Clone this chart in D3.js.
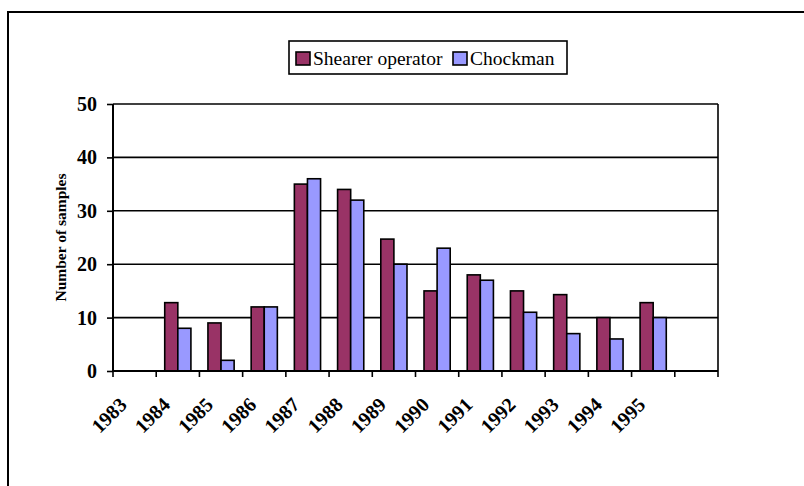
<!DOCTYPE html>
<html>
<head>
<meta charset="utf-8">
<script src="https://cdn.jsdelivr.net/npm/d3@7"></script>
<style>
  body { margin: 0; background: #fff; }
  svg { display: block; }
  svg text { font-family: "Liberation Serif", "Times New Roman", Times, serif; }
</style>
</head>
<body>
<script>
// Samples per year, by job
var years = [1983, 1984, 1985, 1986, 1987, 1988, 1989, 1990, 1991, 1992, 1993, 1994, 1995];
var shearer = [null, 12.8, 9, 12, 35, 34, 24.7, 15, 18, 15, 14.3, 10, 12.8];
var chockman = [null, 8, 2, 12, 36, 32, 20, 23, 17, 11, 7, 6, 10];
var seriesNames = ['Shearer operator', 'Chockman'];
var seriesColors = ['#993366', '#9999ff'];
var yTicks = [0, 10, 20, 30, 40, 50];

var width = 804, height = 486;
var margin = {left: 113, right: 86, top: 104, bottom: 115};
var serif = 'Liberation Serif, Times New Roman, serif';

var svg = d3.select('body').append('svg')
  .attr('width', width)
  .attr('height', height)
  .attr('font-family', serif);

// outer chart border (runs off the right and bottom edge)
svg.append('rect')
  .attr('x', 8).attr('y', 12)
  .attr('width', 900).attr('height', 600)
  .attr('fill', 'none')
  .attr('stroke', '#000')
  .attr('stroke-width', 2);

// one extra empty slot at the end, like the original
var slots = d3.range(years.length + 1);
var x = d3.scaleBand()
  .domain(slots)
  .range([margin.left, width - margin.right]);

var y = d3.scaleLinear()
  .domain([0, 50])
  .range([height - margin.bottom, margin.top]);

// gridlines
svg.append('g')
  .selectAll('line')
  .data(yTicks.slice(1))
  .enter().append('line')
  .attr('x1', x.range()[0]).attr('x2', x.range()[1])
  .attr('y1', function(d) { return y(d); })
  .attr('y2', function(d) { return y(d); })
  .attr('stroke', '#000')
  .attr('stroke-width', 1.6);

// right border of plot
svg.append('line')
  .attr('x1', x.range()[1]).attr('x2', x.range()[1])
  .attr('y1', y(50)).attr('y2', y(0))
  .attr('stroke', '#000')
  .attr('stroke-width', 1.6);

// bars
var inner = d3.scaleBand()
  .domain([0, 1])
  .range([0, x.bandwidth()])
  .paddingOuter(0.65)
  .paddingInner(0);

var data = [];
years.forEach(function(yr, i) {
  [shearer[i], chockman[i]].forEach(function(v, s) {
    if (v != null) data.push({slot: i, s: s, v: v});
  });
});

svg.append('g')
  .selectAll('rect')
  .data(data)
  .enter().append('rect')
  .attr('x', function(d) { return x(d.slot) + inner(d.s); })
  .attr('y', function(d) { return y(d.v); })
  .attr('width', inner.bandwidth())
  .attr('height', function(d) { return y(0) - y(d.v); })
  .attr('fill', function(d) { return seriesColors[d.s]; })
  .attr('stroke', '#000')
  .attr('stroke-width', 1.6);

// y axis
var yAxis = svg.append('g')
  .attr('transform', 'translate(' + margin.left + ',0)')
  .call(d3.axisLeft(y).tickValues(yTicks).tickSize(6).tickPadding(10));
yAxis.attr('font-family', serif);
yAxis.select('.domain').attr('stroke-width', 2).attr('d', 'M0,' + y(50) + 'V' + y(0));
yAxis.selectAll('.tick line').attr('stroke-width', 1.6);
yAxis.selectAll('text')
  .attr('font-family', serif)
  .attr('font-size', 20)
  .attr('font-weight', 'bold')
  .attr('fill', '#000');

// x axis: ticks on slot boundaries, year labels at the left edge of each slot
var xAxis = svg.append('g')
  .attr('transform', 'translate(0,' + y(0) + ')');
xAxis.append('line')
  .attr('x1', x.range()[0]).attr('x2', x.range()[1])
  .attr('stroke', '#000')
  .attr('stroke-width', 2);
xAxis.selectAll('.tk')
  .data(slots.concat([slots.length]))
  .enter().append('line')
  .attr('class', 'tk')
  .attr('x1', function(d) { return x.range()[0] + d * x.step(); })
  .attr('x2', function(d) { return x.range()[0] + d * x.step(); })
  .attr('y1', 0).attr('y2', 6)
  .attr('stroke', '#000')
  .attr('stroke-width', 1.6);
xAxis.selectAll('.lbl')
  .data(years)
  .enter().append('text')
  .attr('class', 'lbl')
  .attr('transform', function(d, i) {
    var px = x(i) + 15;
    return 'translate(' + px + ',' + 35 + ') rotate(-45)';
  })
  .attr('text-anchor', 'end')
  .attr('font-family', serif)
  .attr('font-size', 20)
  .attr('font-weight', 'bold')
  .text(function(d) { return d; });

// y axis title
svg.append('text')
  .attr('transform', 'translate(66,' + ((y(0) + y(50)) / 2) + ') rotate(-90)')
  .attr('text-anchor', 'middle')
  .attr('font-family', serif)
  .attr('font-size', 15.5)
  .attr('font-weight', 'bold')
  .text('Number of samples');

// legend
var legend = svg.append('g').attr('transform', 'translate(289,41)');
legend.append('rect')
  .attr('width', 278).attr('height', 33)
  .attr('fill', '#fff')
  .attr('stroke', '#000')
  .attr('stroke-width', 1.6);
var legX = [7, 164];
var item = legend.selectAll('.item')
  .data(seriesNames)
  .enter().append('g')
  .attr('transform', function(d, i) { return 'translate(' + legX[i] + ',11)'; });
item.append('rect')
  .attr('width', 14).attr('height', 13)
  .attr('fill', function(d, i) { return seriesColors[i]; })
  .attr('stroke', '#000')
  .attr('stroke-width', 1.6);
item.append('text')
  .attr('x', 17).attr('y', 13)
  .attr('font-family', serif)
  .attr('font-size', 19.5)
  .text(function(d) { return d; });
</script>
</body>
</html>
